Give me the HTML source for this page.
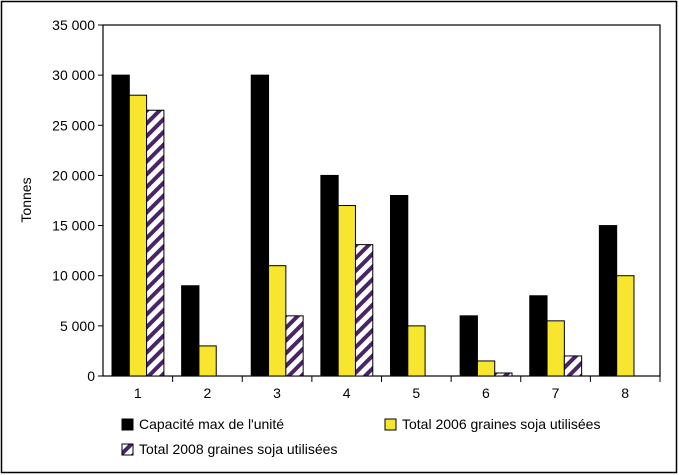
<!DOCTYPE html>
<html><head><meta charset="utf-8"><style>
body{margin:0;background:#fff}
svg{display:block;font-family:"Liberation Sans",sans-serif}
</style></head><body>
<svg id="chart" width="679" height="475">
<defs><pattern id="hatch" patternUnits="userSpaceOnUse" width="9" height="9" patternTransform="rotate(45)">
<rect width="9" height="9" fill="#fff"/><rect width="4" height="9" fill="#4a2468"/></pattern></defs>
<rect x="1.5" y="1.5" width="675" height="471" fill="#fff" stroke="#000" stroke-width="1.5"/>
<g id="plot"></g>
<text x="0" y="0" transform="translate(31,200) rotate(-90)" text-anchor="middle" font-size="14">Tonnes</text>
<g font-size="14">
<rect x="122" y="419" width="11" height="11" fill="#000" stroke="#000"/>
<text x="139" y="429">Capacité max de l'unité</text>
<rect x="385" y="419" width="11" height="11" fill="#f7e52e" stroke="#000"/>
<text x="402" y="429">Total 2006 graines soja utilisées</text>
<rect x="122" y="444" width="11" height="11" fill="url(#hatch)" stroke="#000"/>
<text x="139" y="454">Total 2008 graines soja utilisées</text>
</g>
</svg>
<script>
const categories=["1","2","3","4","5","6","7","8"];
const capacity=[30000,9000,30000,20000,18000,6000,8000,15000];
const total2006=[28000,3000,11000,17000,5000,1500,5500,10000];
const total2008=[26500,0,6000,13100,0,300,2000,0];
const yTicks=[0,5000,10000,15000,20000,25000,30000,35000];
const yTickLabels=["0","5 000","10 000","15 000","20 000","25 000","30 000","35 000"];
const L=103,R=660,T=25,B=376,yMax=35000;
const ns="http://www.w3.org/2000/svg";
const g=document.getElementById("plot");
const cw=(R-L)/categories.length;
function y(v){return B-(v/yMax)*(B-T);}
function x(i){return L+i*cw;}
function el(t,a){const e=document.createElementNS(ns,t);for(const k in a)e.setAttribute(k,a[k]);g.appendChild(e);return e;}
const frame=el("rect",{x:L,y:T,width:R-L,height:B-T,fill:"none",stroke:"#000","stroke-width":1.2});


yTicks.forEach((v,i)=>{
 const t=el("line",{x1:L-5,x2:L,y1:y(v),y2:y(v),stroke:"#000"});
 
 
 const tx=el("text",{x:L-8,y:y(v)+5,"text-anchor":"end","font-size":14});
 tx.textContent=yTickLabels[i];
 
 
});
const series=[[capacity,"#000"],[total2006,"#f7e52e"],[total2008,"url(#hatch)"]];
const names=["capacity","2006","2008"];
const bw=17.3,off=9;
categories.forEach((c,i)=>{
 const t=el("line",{x1:x(i+1),x2:x(i+1),y1:B,y2:B+6,stroke:"#000"});
 
 
 const lb=el("text",{x:x(i)+cw/2,y:B+22,"text-anchor":"middle","font-size":14});
 lb.textContent=c;
 
 
 series.forEach((s,j)=>{
  const v=s[0][i]; if(v<=0) return;
  const r=el("rect",{x:x(i)+off+j*bw,y:y(v),width:bw,height:B-y(v),fill:s[1],stroke:"#000","stroke-width":1});
  
  
 });
});
</script>
</body></html>
